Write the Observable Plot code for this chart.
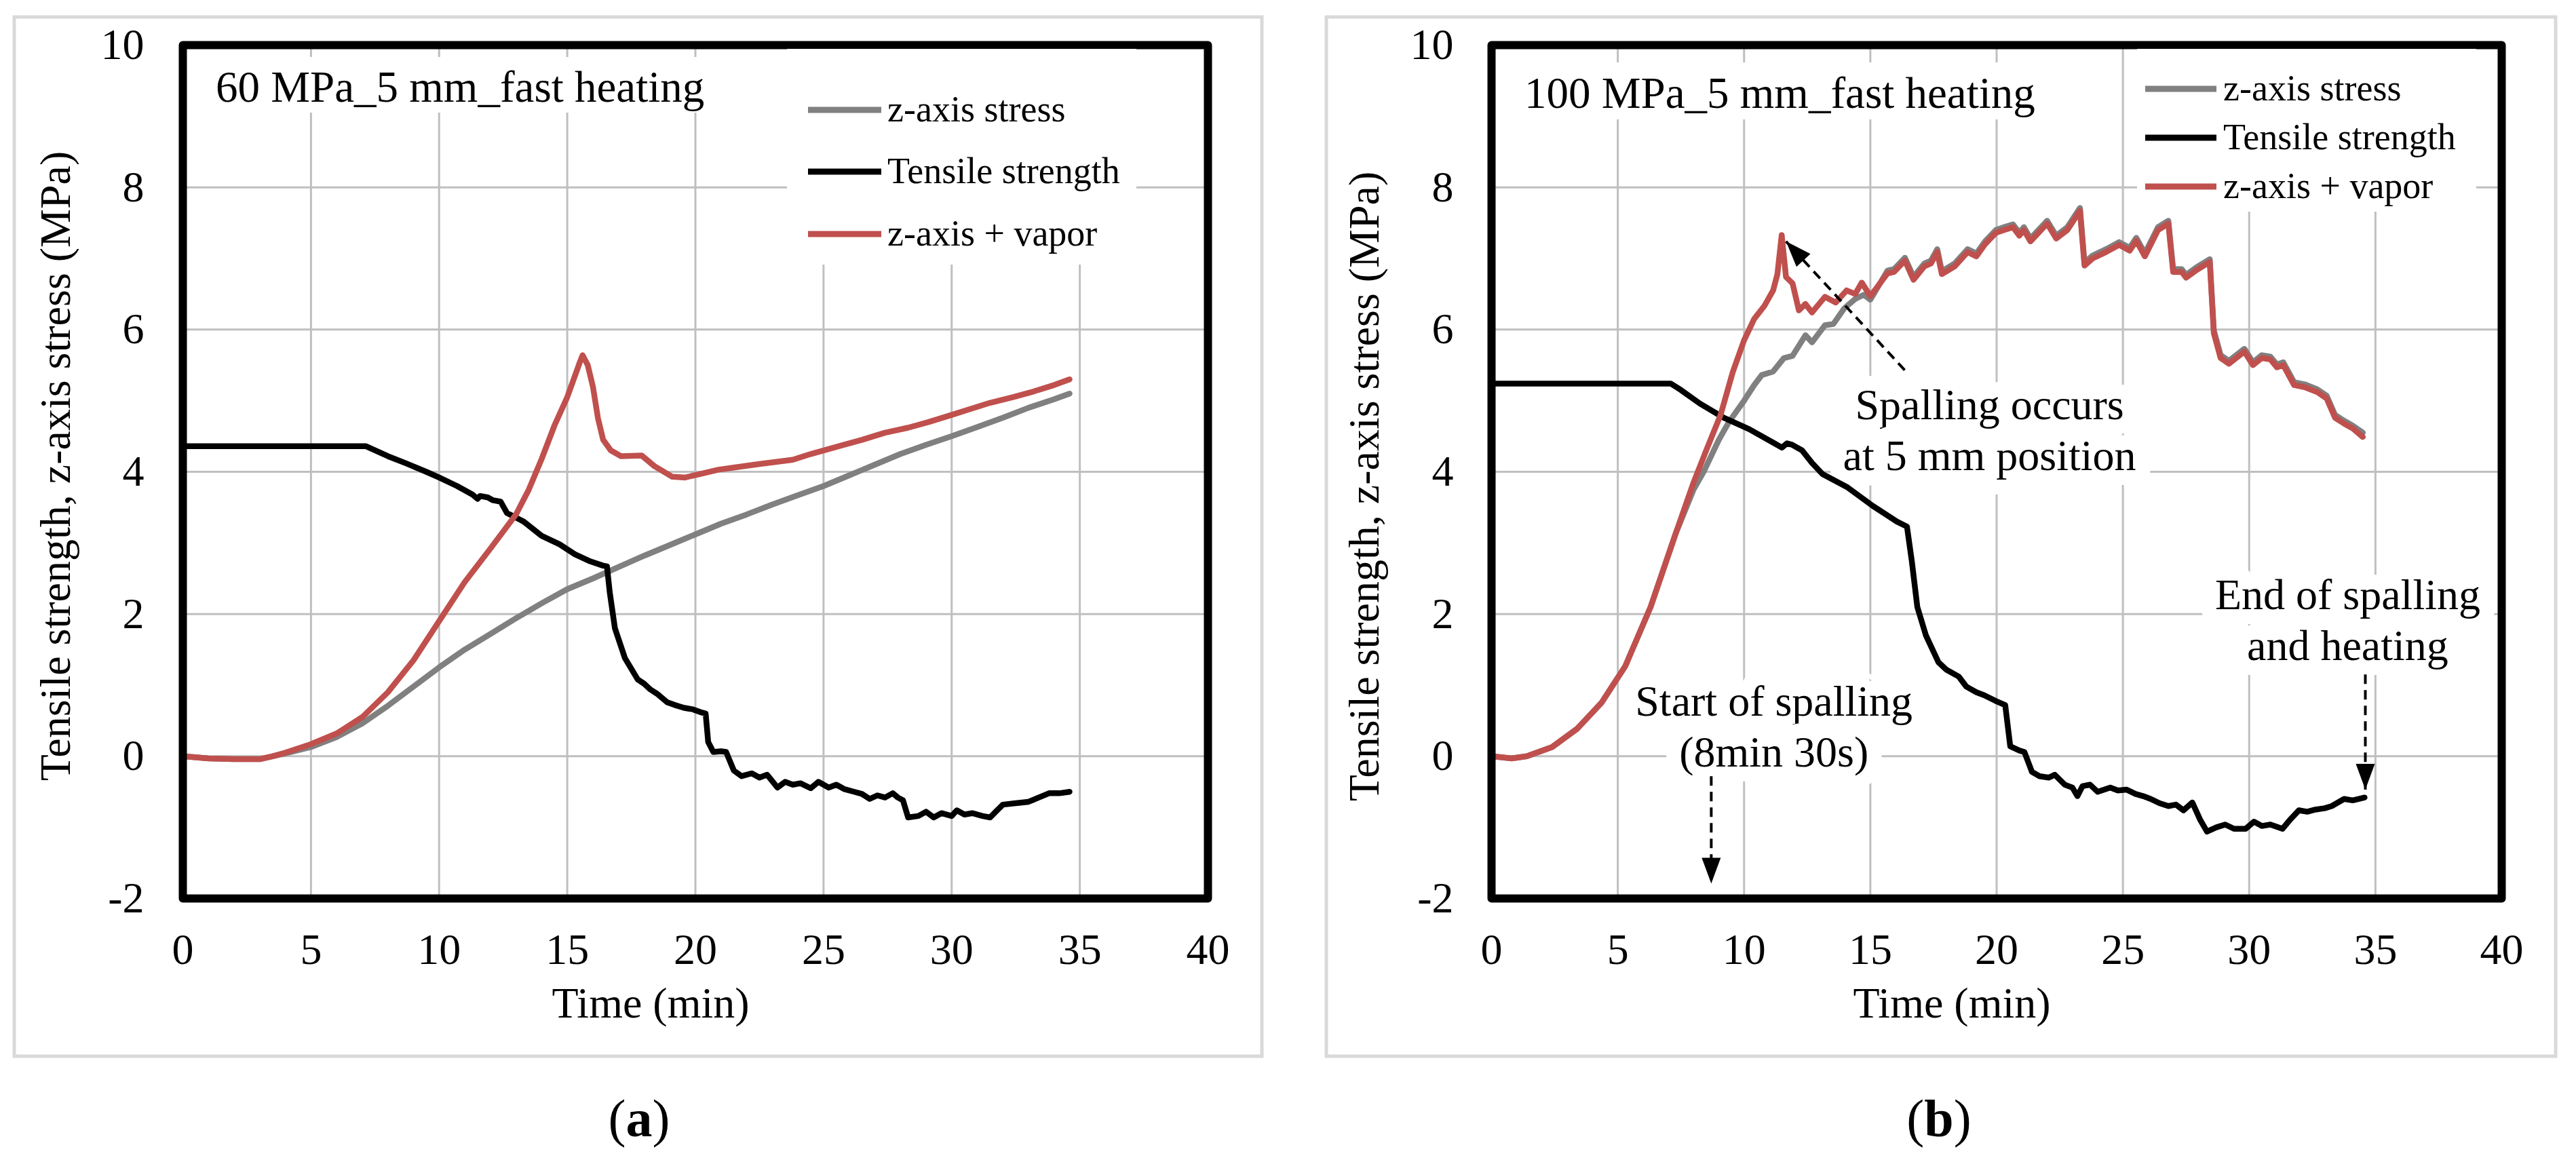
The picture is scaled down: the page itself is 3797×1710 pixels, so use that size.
<!DOCTYPE html>
<html><head><meta charset="utf-8">
<script src="https://cdn.jsdelivr.net/npm/d3@7"></script>
<script src="https://cdn.jsdelivr.net/npm/@observablehq/plot@0.6"></script>
<style>
html,body{margin:0;padding:0;background:#fff;}
#wrap{position:relative;width:3797px;height:1710px;overflow:hidden;background:#fff;}
#wrap svg{position:absolute;top:0;}
</style></head><body><div id="wrap"></div>
<script>
// ---------- data ----------
const xTicks = [0, 5, 10, 15, 20, 25, 30, 35, 40];
const yTicks = [-2, 0, 2, 4, 6, 8, 10];
const seriesNames = ["z-axis stress", "Tensile strength", "z-axis + vapor"];
const seriesColors = ["#808080", "#000000", "#c0504d"];
const panelTitles = ["60 MPa_5 mm_fast heating", "100 MPa_5 mm_fast heating"];
const panelLetters = ["a", "b"];
const xLabel = "Time (min)";
const yLabel = "Tensile strength, z-axis stress (MPa)";

// panel (a): [time, value]
const zStressA = [[0,0],[1,-0.03],[2,-0.04],[3,-0.04],[3.5,0],[4,0.04],[5,0.13],[6,0.27],[7,0.46],[8,0.71],[9,0.98],[10,1.25],[11,1.5],[12,1.72],[13,1.94],[14,2.15],[15,2.35],[16,2.5],[17,2.66],[18,2.82],[19,2.97],[20,3.12],[21,3.27],[22,3.4],[23,3.54],[24,3.67],[25,3.8],[26,3.95],[27,4.1],[28,4.25],[29,4.38],[30,4.5],[31,4.63],[32,4.76],[33,4.9],[34,5.02],[34.6,5.1]];
const tensileA = [[0,4.36],[7.15,4.36],[8,4.22],[8.7,4.12],[9.5,4.0],[10,3.92],[10.7,3.8],[11.3,3.68],[11.5,3.62],[11.6,3.66],[11.9,3.64],[12.1,3.6],[12.4,3.58],[12.65,3.42],[13.3,3.3],[14,3.1],[14.7,2.98],[15.3,2.84],[15.9,2.74],[16.4,2.68],[16.55,2.67],[16.66,2.3],[16.86,1.8],[17.25,1.38],[17.75,1.08],[18.0,1.02],[18.24,0.94],[18.5,0.88],[18.9,0.76],[19.2,0.72],[19.56,0.68],[19.9,0.66],[20.2,0.62],[20.4,0.6],[20.5,0.2],[20.7,0.06],[21.0,0.07],[21.2,0.06],[21.5,-0.2],[21.8,-0.28],[22.2,-0.24],[22.5,-0.3],[22.8,-0.26],[23.2,-0.44],[23.5,-0.36],[23.8,-0.4],[24.1,-0.38],[24.5,-0.45],[24.8,-0.36],[25.2,-0.44],[25.5,-0.4],[25.8,-0.46],[26.2,-0.5],[26.5,-0.53],[26.8,-0.6],[27.1,-0.55],[27.4,-0.58],[27.7,-0.52],[27.9,-0.58],[28.1,-0.62],[28.3,-0.86],[28.7,-0.84],[29.0,-0.78],[29.3,-0.86],[29.6,-0.8],[30.0,-0.84],[30.2,-0.76],[30.5,-0.82],[30.8,-0.8],[31.2,-0.84],[31.5,-0.86],[31.8,-0.75],[32.0,-0.68],[32.5,-0.66],[33.0,-0.64],[33.4,-0.58],[33.8,-0.52],[34.2,-0.52],[34.6,-0.5]];
const vaporA = [[0,0],[1,-0.03],[2,-0.04],[3,-0.04],[3.5,0],[4,0.05],[5,0.17],[6,0.32],[7,0.55],[8,0.9],[9,1.35],[10,1.9],[11,2.45],[12,2.92],[13,3.4],[13.5,3.75],[14,4.18],[14.5,4.65],[15,5.05],[15.3,5.35],[15.5,5.55],[15.6,5.64],[15.8,5.5],[16.0,5.2],[16.2,4.75],[16.4,4.45],[16.7,4.3],[17.1,4.22],[17.9,4.23],[18.4,4.08],[19.1,3.93],[19.6,3.92],[20.2,3.97],[20.9,4.03],[21.5,4.06],[22.5,4.11],[23.8,4.17],[24.5,4.25],[25.8,4.38],[26.5,4.45],[27.4,4.55],[28.3,4.62],[29.1,4.7],[30.0,4.8],[30.7,4.88],[31.5,4.97],[32.4,5.05],[33.2,5.13],[34.0,5.22],[34.6,5.3]];

// panel (b)
const zStressB = [[0,0],[0.8,-0.03],[1.4,0],[2.4,0.13],[3.4,0.39],[4.35,0.75],[5.3,1.27],[6.3,2.1],[7.3,3.14],[8.0,3.75],[8.4,4.0],[9.0,4.45],[9.4,4.7],[10.0,5.0],[10.4,5.22],[10.7,5.36],[11.15,5.41],[11.58,5.6],[11.92,5.63],[12.43,5.92],[12.69,5.82],[13.2,6.06],[13.54,6.08],[13.97,6.3],[14.4,6.43],[14.74,6.49],[15.0,6.42],[15.3,6.6],[15.68,6.83],[15.94,6.85],[16.37,7.01],[16.71,6.74],[17.14,6.93],[17.4,6.97],[17.65,7.13],[17.83,6.82],[18.34,6.93],[18.85,7.13],[19.2,7.07],[19.54,7.24],[19.97,7.4],[20.3,7.44],[20.65,7.48],[20.9,7.36],[21.08,7.44],[21.34,7.28],[22.0,7.53],[22.36,7.32],[22.8,7.44],[23.3,7.71],[23.48,6.94],[23.8,7.04],[24.33,7.13],[24.85,7.23],[25.27,7.15],[25.53,7.29],[25.87,7.07],[26.39,7.44],[26.8,7.53],[26.99,6.85],[27.33,6.85],[27.5,6.77],[27.93,6.88],[28.44,6.99],[28.6,5.99],[28.87,5.64],[29.2,5.56],[29.81,5.73],[30.15,5.54],[30.5,5.64],[30.84,5.62],[31.1,5.51],[31.35,5.54],[31.78,5.26],[32.2,5.23],[32.7,5.16],[33.07,5.07],[33.4,4.8],[33.75,4.72],[34.1,4.65],[34.5,4.55]];
const tensileB = [[0,5.24],[7.1,5.24],[7.5,5.15],[8.25,4.96],[9.2,4.76],[10.2,4.6],[11.2,4.4],[11.5,4.34],[11.7,4.4],[11.9,4.38],[12.3,4.3],[12.7,4.12],[13.1,3.97],[14.1,3.78],[15.1,3.52],[16.05,3.3],[16.45,3.23],[16.64,2.75],[16.86,2.1],[17.2,1.7],[17.7,1.32],[18.0,1.22],[18.5,1.12],[18.8,0.98],[19.2,0.9],[19.5,0.86],[19.95,0.78],[20.34,0.72],[20.54,0.14],[20.9,0.08],[21.1,0.06],[21.4,-0.22],[21.7,-0.28],[22.06,-0.3],[22.3,-0.26],[22.7,-0.4],[23.0,-0.44],[23.2,-0.56],[23.4,-0.42],[23.7,-0.4],[24.0,-0.5],[24.5,-0.44],[24.8,-0.48],[25.15,-0.47],[25.5,-0.53],[25.8,-0.56],[26.1,-0.6],[26.45,-0.66],[26.8,-0.7],[27.1,-0.68],[27.4,-0.76],[27.75,-0.65],[28.07,-0.9],[28.33,-1.06],[28.7,-1.0],[29.05,-0.96],[29.4,-1.02],[29.86,-1.02],[30.19,-0.92],[30.5,-0.98],[30.84,-0.96],[31.32,-1.02],[31.6,-0.9],[31.97,-0.76],[32.3,-0.78],[32.62,-0.75],[33.0,-0.73],[33.27,-0.7],[33.76,-0.6],[34.1,-0.62],[34.57,-0.58]];
const vaporB = [[0,0],[0.8,-0.03],[1.4,0],[2.4,0.13],[3.4,0.39],[4.35,0.75],[5.3,1.27],[6.3,2.1],[7.3,3.14],[8.0,3.85],[8.5,4.3],[9.07,4.8],[9.55,5.4],[10.0,5.85],[10.4,6.15],[10.8,6.33],[11.15,6.55],[11.32,6.78],[11.49,7.33],[11.66,6.74],[11.92,6.65],[12.17,6.27],[12.43,6.36],[12.69,6.24],[13.2,6.46],[13.63,6.38],[14.06,6.55],[14.4,6.5],[14.66,6.66],[15.0,6.47],[15.68,6.79],[15.94,6.81],[16.37,6.97],[16.71,6.7],[17.14,6.89],[17.4,6.93],[17.65,7.09],[17.83,6.78],[18.34,6.89],[18.85,7.09],[19.2,7.03],[19.54,7.2],[19.97,7.36],[20.3,7.4],[20.65,7.44],[20.9,7.32],[21.08,7.4],[21.34,7.24],[22.0,7.49],[22.36,7.28],[22.8,7.4],[23.3,7.67],[23.48,6.9],[23.8,7.0],[24.33,7.09],[24.85,7.19],[25.27,7.11],[25.53,7.25],[25.87,7.03],[26.39,7.4],[26.8,7.49],[26.99,6.81],[27.33,6.81],[27.5,6.73],[27.93,6.84],[28.44,6.95],[28.6,5.95],[28.87,5.6],[29.2,5.52],[29.81,5.69],[30.15,5.5],[30.5,5.6],[30.84,5.58],[31.1,5.47],[31.35,5.5],[31.78,5.22],[32.2,5.19],[32.7,5.12],[33.07,5.03],[33.4,4.76],[33.75,4.68],[34.1,4.61],[34.5,4.49]];

// annotations of panel (b), in data coordinates
const notesB = [
  {text: "Spalling occurs\nat 5 mm position", x: 19.72, y: 4.61},
  {text: "Start of spalling\n(8min 30s)", x: 11.18, y: 0.44},
  {text: "End of spalling\nand heating", x: 33.9, y: 1.94}
];
const arrowsB = [
  {x1: 16.36, y1: 5.43, x2: 11.66, y2: 7.24},
  {x1: 8.7, y1: -0.28, x2: 8.7, y2: -1.79},
  {x1: 34.6, y1: 1.15, x2: 34.6, y2: -0.47}
];

// ---------- layout ----------
const FONT = "'Liberation Serif', 'Times New Roman', serif";
const H = 1600, MT = 66, MB = 276;
const panels = [
  {left: 0, width: 1900, ml: 269, mr: 120, pad: 57, series: [zStressA, tensileA, vaporA], notes: [], arrows: []},
  {left: 1900, width: 1897, ml: 298, mr: 110, pad: 56, series: [zStressB, tensileB, vaporB], notes: notesB, arrows: arrowsB}
];

const wrap = document.getElementById("wrap");
const fmt = d => String(d);

panels.forEach(p => {
  const kx = (p.width - p.ml - p.mr) / 40;
  const ky = (H - MT - MB) / 12;
  const heads = p.arrows.map(a => ({
    x: a.x2, y: a.y2,
    rot: Math.atan2((a.x2 - a.x1) * kx, (a.y2 - a.y1) * ky) * 180 / Math.PI
  }));
  const chart = Plot.plot({
    width: p.width, height: H,
    marginLeft: p.ml, marginRight: p.mr, marginTop: MT, marginBottom: MB,
    x: {domain: [0, 40]},
    y: {domain: [-2, 10]},
    style: {fontFamily: FONT, fontSize: "64px", color: "black", background: "transparent", overflow: "visible"},
    marks: [
      Plot.gridX(xTicks.slice(1, -1), {stroke: "#bfbfbf", strokeOpacity: 1, strokeWidth: 3}),
      Plot.gridY(yTicks.slice(1, -1), {stroke: "#bfbfbf", strokeOpacity: 1, strokeWidth: 3}),
      Plot.axisX(xTicks, {tickSize: 0, tickPadding: 51, fontSize: 64, label: null, tickFormat: fmt}),
      Plot.axisY(yTicks, {tickSize: 0, tickPadding: p.pad, fontSize: 64, label: null, tickFormat: fmt}),
      Plot.text(p.notes, {x: "x", y: "y", text: "text", fontSize: 64, lineHeight: 1.17, textAnchor: "middle", lineAnchor: "middle", fill: "black", stroke: "white", strokeWidth: 44, strokeLinejoin: "round"}),
      ...p.series.map((s, i) => Plot.line(s, {x: d => d[0], y: d => d[1], stroke: seriesColors[i], strokeWidth: 8.5, strokeLinejoin: "round", strokeLinecap: "round"})),
      Plot.link(p.arrows, {x1: "x1", y1: "y1", x2: "x2", y2: "y2", stroke: "black", strokeWidth: 4, strokeDasharray: "14,9"}),
      Plot.vector(heads, {x: "x", y: "y", rotate: "rot", length: 38, r: 14, shape: "spike", anchor: "end", fill: "black", stroke: "none"}),
      Plot.frame({stroke: "black", strokeWidth: 12, strokeLinejoin: "round"})
    ]
  });
  chart.style.left = p.left + "px";
  wrap.appendChild(chart);
});

// ---------- overlay: borders, titles, legends, captions ----------
const ov = d3.create("svg").attr("width", 3797).attr("height", 1710)
  .style("left", "0px").style("font-family", FONT);

const deco = [
  {bx: 21, bw: 1839, yTitleX: 103, yTitleY: 687, xTitleX: 959, capX: 942,
   tBox: [305, 84, 742, 82], tX: 318, tY: 150,
   lBox: [1160, 72, 515, 318], lYs: [162, 253, 345], lX1: 1191, lX2: 1299, lTX: 1308},
  {bx: 1955, bw: 1812, yTitleX: 2032, yTitleY: 717, xTitleX: 2877, capX: 2858,
   tBox: [2234, 92, 778, 84], tX: 2247, tY: 159,
   lBox: [3150, 72, 500, 240], lYs: [131, 203, 275], lX1: 3162, lX2: 3267, lTX: 3277}
];

deco.forEach((d, i) => {
  ov.append("rect").attr("x", d.bx).attr("y", 25).attr("width", d.bw).attr("height", 1532)
    .attr("fill", "none").attr("stroke", "#d9d9d9").attr("stroke-width", 5);
  ov.append("text").attr("transform", `translate(${d.yTitleX},${d.yTitleY}) rotate(-90)`)
    .attr("text-anchor", "middle").attr("font-size", 64).text(yLabel);
  ov.append("text").attr("x", d.xTitleX).attr("y", 1500)
    .attr("text-anchor", "middle").attr("font-size", 64).text(xLabel);
  // panel title
  ov.append("rect").attr("x", d.tBox[0]).attr("y", d.tBox[1]).attr("width", d.tBox[2]).attr("height", d.tBox[3]).attr("fill", "white");
  ov.append("text").attr("x", d.tX).attr("y", d.tY).attr("font-size", 65).text(panelTitles[i]);
  // legend
  ov.append("rect").attr("x", d.lBox[0]).attr("y", d.lBox[1]).attr("width", d.lBox[2]).attr("height", d.lBox[3]).attr("fill", "white");
  seriesNames.forEach((name, j) => {
    ov.append("line").attr("x1", d.lX1).attr("x2", d.lX2).attr("y1", d.lYs[j]).attr("y2", d.lYs[j])
      .attr("stroke", seriesColors[j]).attr("stroke-width", 9);
    ov.append("text").attr("x", d.lTX).attr("y", d.lYs[j] + 17).attr("font-size", 54).text(name);
  });
  // caption (a)/(b)
  const cap = ov.append("text").attr("x", d.capX).attr("y", 1675).attr("text-anchor", "middle").attr("font-size", 78);
  cap.append("tspan").text("(");
  cap.append("tspan").attr("font-weight", "bold").text(panelLetters[i]);
  cap.append("tspan").text(")");
});

wrap.appendChild(ov.node());
</script>
</body></html>
